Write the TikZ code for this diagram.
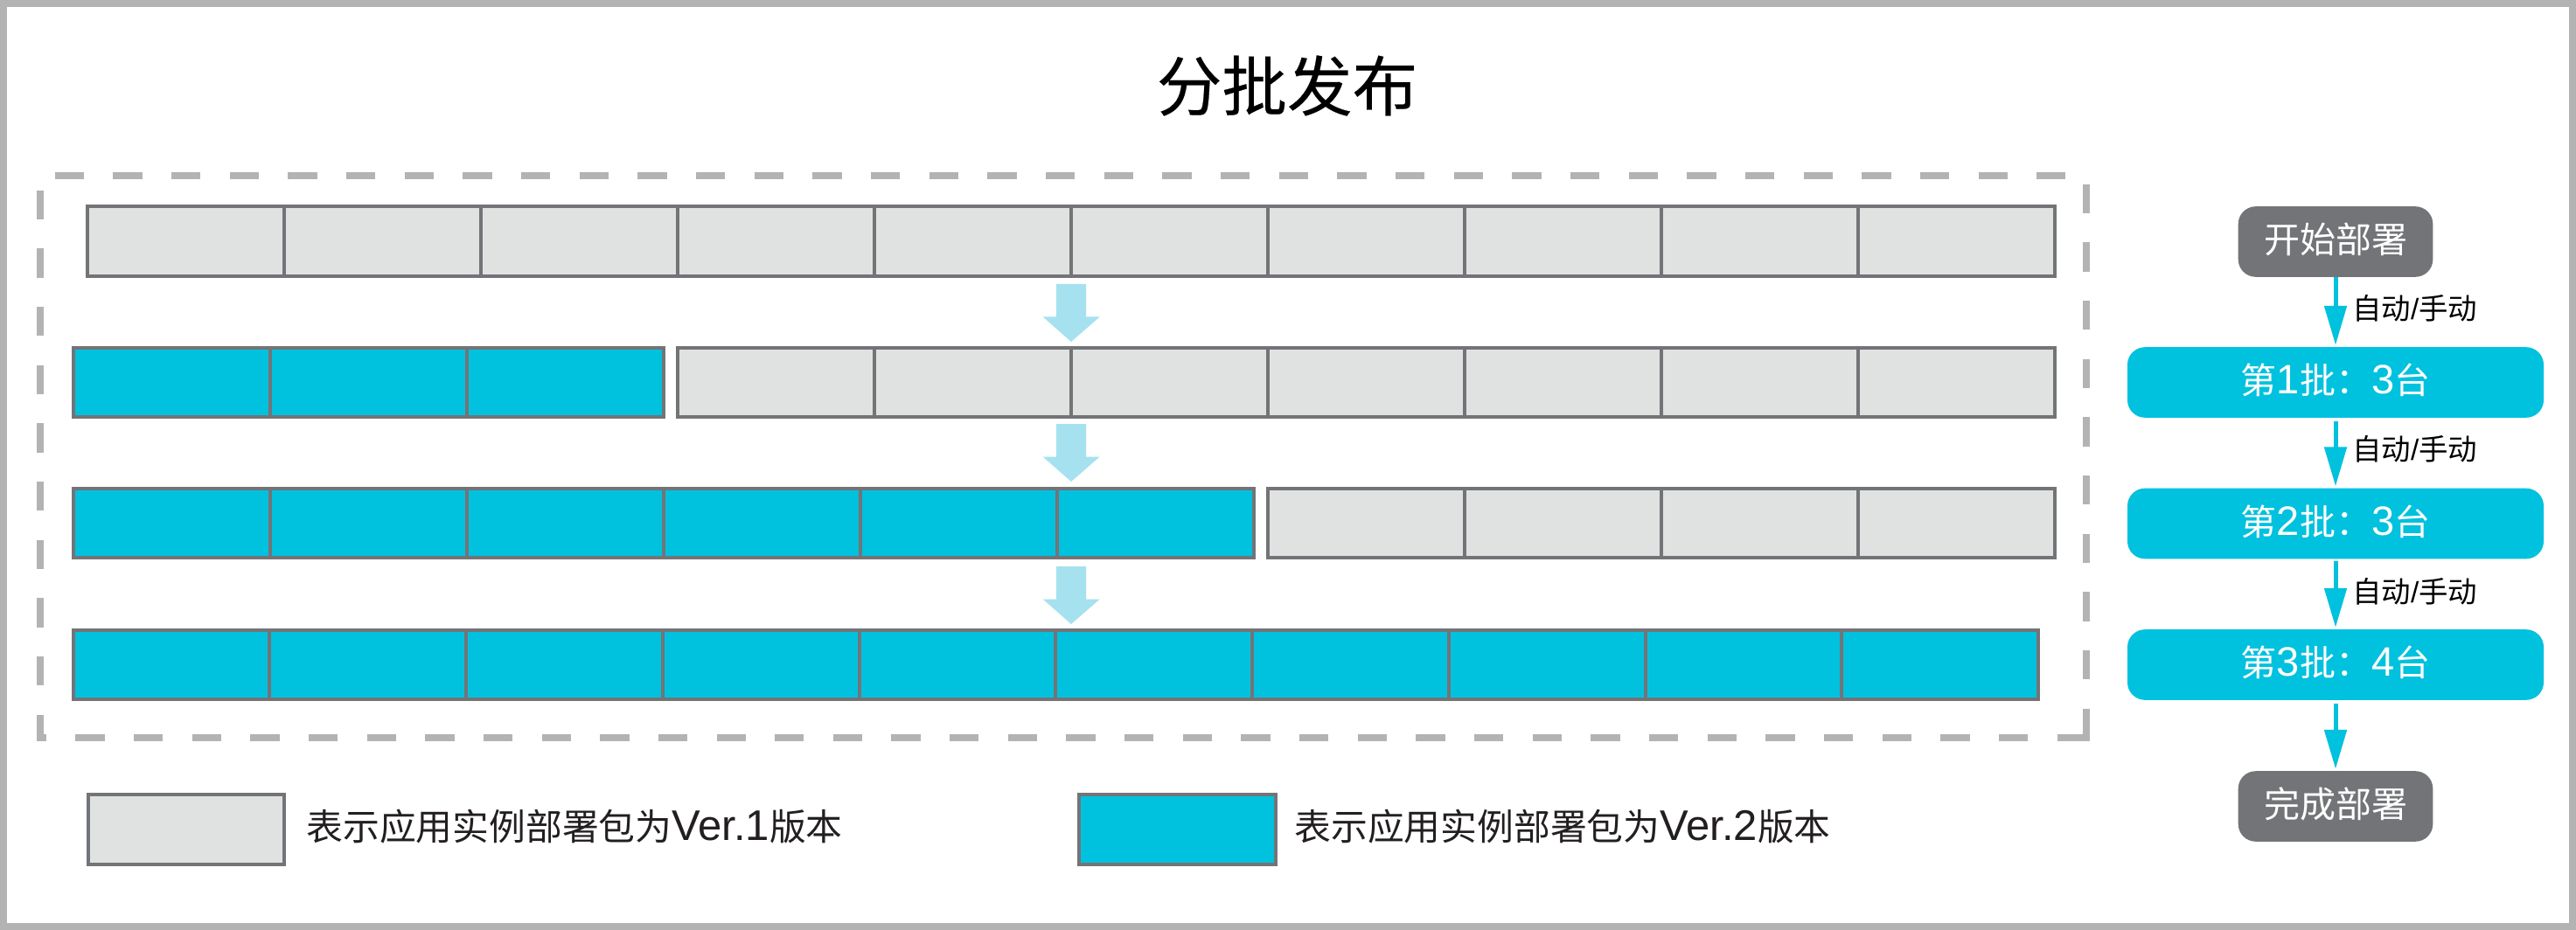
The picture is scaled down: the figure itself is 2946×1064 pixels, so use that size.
\documentclass[tikz,border=0pt]{standalone}
\usepackage{fontspec}
\setmainfont{Liberation Sans}
\newfontfamily\cjk{Noto Sans CJK SC}
\newfontfamily\cjkt[FakeBold=0.3]{Noto Sans CJK SC}
\usetikzlibrary{arrows.meta}
\definecolor{frameg}{HTML}{B3B3B3}
\definecolor{strokeg}{HTML}{737477}
\definecolor{cellg}{HTML}{E0E2E1}
\definecolor{cellb}{HTML}{00C1DE}
\definecolor{pale}{HTML}{A6E1EF}
\definecolor{legendtxt}{HTML}{231F20}
\newcommand{\lat}[1]{{\fontsize{23.5pt}{25pt}\selectfont #1}}
\newcommand{\latl}[1]{{\fontsize{24.5pt}{25pt}\selectfont #1}}
\tikzset{
  gcell/.style={draw=strokeg,fill=cellg,line width=2pt,line join=miter},
  bcell/.style={draw=strokeg,fill=cellb,line width=2pt,line join=miter},
  endnode/.style={fill=strokeg,text=white,rounded corners=10pt,minimum width=111.3pt,minimum height=40.3pt,inner sep=0pt,text height=15.1pt,text depth=2pt,font=\fontsize{20.5pt}{24pt}\selectfont},
  batch/.style={fill=cellb,text=white,rounded corners=10pt,minimum width=238pt,minimum height=40.3pt,inner sep=0pt,text height=15.1pt,text depth=2pt,font=\fontsize{20.5pt}{24pt}\selectfont},
  flow/.style={draw=cellb,line width=2.5pt,-{Triangle[length=22.5pt,width=12.5pt]},shorten >=1pt},
  flowlabel/.style={anchor=west,inner sep=0pt,font=\fontsize{16.7pt}{20pt}\selectfont},
  legendlabel/.style={anchor=west,inner sep=0pt,text=legendtxt,font=\fontsize{20.9pt}{25pt}\selectfont},
  palearrow/.style={fill=pale,draw=none}
}
\newcommand{\cellrow}[6]{% style, x0, pitch, count, ytop, ybot
  \foreach \i in {1,...,#4}{
    \path[#1] ({#2+(\i-1)*#3},#5) rectangle ({#2+\i*#3},#6);
  }}
\newcommand{\palearrowat}[1]{% top y
  \fill[palearrow] (1208,#1) -- (1242,#1) -- (1242,#1+37.5) -- (1257.7,#1+37.5) -- (1225,#1+66) -- (1192.7,#1+37.5) -- (1208,#1+37.5) -- cycle;}
\begin{document}
\begin{tikzpicture}[x=0.5pt,y=-0.5pt]
\useasboundingbox (0,0) rectangle (2946,1064);
\fill[white] (0,0) rectangle (2946,1064);
\draw[frameg,line width=4pt] (4,4) rectangle (2942,1060);
\node[font=\fontsize{37.3pt}{44pt}\selectfont\cjkt,inner sep=0pt] (title) at (1472,98) {分批发布};
% dashed frame
\draw[frameg,line width=4pt,dash pattern=on 16.665pt off 16.665pt] (2386,844) -- (46,844) -- (46,201) -- (2386,201) -- (2386,844);
\fill[frameg] (2382,840) rectangle (2390,848);
% rows
\cellrow{gcell}{100}{225}{10}{236}{316}
\cellrow{bcell}{83.5}{225}{3}{398}{477}
\cellrow{gcell}{775}{225}{7}{398}{477}
\cellrow{bcell}{83.5}{225}{6}{559}{638}
\cellrow{gcell}{1450}{225}{4}{559}{638}
\cellrow{bcell}{83.5}{224.75}{10}{721}{800}
% pale arrows
\palearrowat{325}
\palearrowat{485}
\palearrowat{648}
% legend
\path[gcell] (101,909) rectangle (325,989);
\node[legendlabel] (leg1) at (350,946) {{\cjk 表示应用实例部署包为}\latl{Ver.1}{\cjk 版本}};
\path[bcell] (1233.5,909) rectangle (1458.7,989);
\node[legendlabel] (leg2) at (1480,946) {{\cjk 表示应用实例部署包为}\latl{Ver.2}{\cjk 版本}};
% flow
\node[endnode] (start) at (2671,276.5) {\cjk 开始部署};
\node[batch] (b1) at (2671,437.5) {{\cjk 第}\lat{1}{\cjk 批：}\lat{3}{\cjk 台}};
\node[batch] (b2) at (2671,599) {{\cjk 第}\lat{2}{\cjk 批：}\lat{3}{\cjk 台}};
\node[batch] (b3) at (2671,760.5) {{\cjk 第}\lat{3}{\cjk 批：}\lat{4}{\cjk 台}};
\node[endnode] (finish) at (2671,922.5) {\cjk 完成部署};
\draw[flow] (start) -- (b1);
\draw[flow,shorten <=1.8pt] (b1) -- (b2);
\draw[flow,shorten <=1pt] (b2) -- (b3);
\draw[flow,shorten <=2pt] (b3) -- (finish);
\node[flowlabel] (l1) at (2690,352.7) {{\cjk 自动}/{\cjk 手动}};
\node[flowlabel] (l2) at (2690,514) {{\cjk 自动}/{\cjk 手动}};
\node[flowlabel] (l3) at (2690,677) {{\cjk 自动}/{\cjk 手动}};
\end{tikzpicture}
\end{document}
